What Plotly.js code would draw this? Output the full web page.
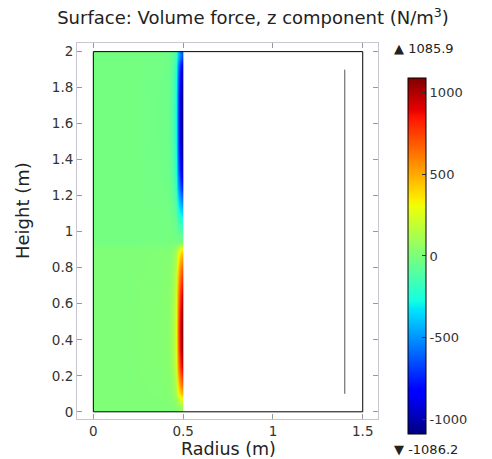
<!DOCTYPE html>
<html>
<head>
<meta charset="utf-8">
<script src="https://cdn.plot.ly/plotly-3.0.1.min.js"></script>
<style>html,body{margin:0;padding:0;background:#fff;}#chart{width:492px;height:459px;}</style>
</head>
<body>
<div id="chart"></div>
<script>
// Radial bin edges (m) of the coloured solid region
var radiusEdges = [0, 0.40, 0.44, 0.46, 0.47, 0.48, 0.49, 0.50];
// Height bin edges (m)
var heightEdges = [0, 0.05, 0.1, 0.2, 0.3, 0.4, 0.5, 0.6, 0.7, 0.8, 0.88, 0.92, 0.96, 1.0,
                   1.1, 1.2, 1.3, 1.4, 1.5, 1.6, 1.7, 1.8, 1.9, 1.95, 2.0];
// Volume force, z component (N/m^3), one row per height bin (bottom to top)
var forceZ = [
  [10, 12, 22, 40, 60, 78, 80],
  [10, 19, 55, 124, 200, 265, 300],
  [10, 30, 107, 255, 428, 568, 650],
  [10, 38, 148, 355, 600, 800, 920],
  [10, 42, 165, 400, 685, 915, 1050],
  [10, 43, 170, 412, 705, 940, 1080],
  [10, 41, 160, 390, 665, 890, 1020],
  [10, 38, 148, 355, 600, 800, 920],
  [10, 33, 122, 295, 495, 662, 760],
  [10, 27, 92, 220, 366, 490, 560],
  [10, 20, 60, 140, 230, 306, 350],
  [-15, -15, -17, -19, -20, -20, -20],
  [-15, -16, -22, -30, -38, -45, -50],
  [-15, -20, -43, -88, -135, -176, -200],
  [-15, -29, -85, -190, -318, -420, -480],
  [-15, -38, -127, -298, -500, -663, -760],
  [-15, -43, -155, -365, -617, -820, -940],
  [-15, -46, -170, -403, -681, -906, -1040],
  [-15, -47, -175, -418, -707, -940, -1080],
  [-15, -48, -176, -420, -711, -946, -1086],
  [-15, -47, -172, -410, -694, -923, -1060],
  [-15, -44, -160, -380, -642, -854, -980],
  [-15, -40, -140, -330, -558, -740, -850],
  [-15, -34, -110, -255, -428, -566, -650]
];
var forceMin = -1086.2;
var forceMax = 1085.9;
// Geometry outline
var outlineR = [0, 1.5, 1.5, 0, 0];
var outlineZ = [0, 0, 2, 2, 0];
var innerLineR = [1.4, 1.4];
var innerLineZ = [0.1, 1.9];
// Tick labels
var xTicks = [0, 0.5, 1, 1.5];
var xTickText = ['0', '0.5', '1', '1.5'];
var yTicks = [0, 0.2, 0.4, 0.6, 0.8, 1, 1.2, 1.4, 1.6, 1.8, 2];
var yTickText = ['0', '0.2', '0.4', '0.6', '0.8', '1', '1.2', '1.4', '1.6', '1.8', '2'];
var cbTicks = [-1000, -500, 0, 500, 1000];
var cbTickText = ['-1000', '-500', '0', '500', '1000'];

var FONT = 'DejaVu Sans, Verdana, sans-serif';
var W = 492, H = 459;
var L = 77, R = 378, T = 43, B = 419;
function px(x) { return (x - L) / (R - L); }
function py(y) { return (B - y) / (B - T); }

var jet = [
  [0, 'rgb(0,0,128)'],
  [0.11, 'rgb(0,0,255)'],
  [0.125, 'rgb(0,0,255)'],
  [0.34, 'rgb(0,219,255)'],
  [0.35, 'rgb(0,229,250)'],
  [0.375, 'rgb(20,255,226)'],
  [0.5, 'rgb(123,255,123)'],
  [0.64, 'rgb(239,255,8)'],
  [0.66, 'rgb(255,236,0)'],
  [0.89, 'rgb(255,19,0)'],
  [0.91, 'rgb(232,0,0)'],
  [1, 'rgb(128,0,0)']
];

var traces = [
  {
    type: 'heatmap',
    x: radiusEdges,
    y: heightEdges,
    z: forceZ,
    zsmooth: 'best',
    zmin: forceMin,
    zmax: forceMax,
    colorscale: jet,
    hoverinfo: 'skip',
    colorbar: {
      xref: 'paper', yref: 'paper',
      x: px(408), xanchor: 'left', xpad: 0,
      y: py(256), yanchor: 'middle', ypad: 0,
      len: 356, lenmode: 'pixels',
      thickness: 18, thicknessmode: 'pixels',
      outlinewidth: 1, outlinecolor: '#000',
      borderwidth: 0,
      tickmode: 'array', tickvals: cbTicks, ticktext: cbTickText,
      ticks: 'inside', ticklen: 4, tickcolor: '#333',
      tickfont: {family: FONT, size: 13, color: '#333'}
    }
  },
  {
    type: 'scatter', mode: 'lines',
    x: outlineR, y: outlineZ,
    line: {color: '#000', width: 1},
    hoverinfo: 'skip', showlegend: false
  },
  {
    type: 'scatter', mode: 'lines',
    x: innerLineR, y: innerLineZ,
    line: {color: '#555', width: 1},
    hoverinfo: 'skip', showlegend: false
  }
];

var axisCommon = {
  showgrid: false, zeroline: false,
  showline: true, linecolor: '#c8c4d0', linewidth: 1, mirror: 'ticks',
  ticks: 'inside', ticklen: 5, tickcolor: '#999',
  tickfont: {family: FONT, size: 13.5, color: '#333'},
  tickmode: 'array'
};

var layout = {
  width: W, height: H,
  margin: {l: L, r: W - R, t: T, b: H - B, pad: 0},
  paper_bgcolor: '#fff', plot_bgcolor: '#fff',
  showlegend: false,
  title: {
    text: 'Surface: Volume force, z component (N/m<sup>3</sup>)',
    font: {family: FONT, size: 18, color: '#222'},
    x: 253 / W, xanchor: 'center', xref: 'container',
    y: 1 - 18 / H, yanchor: 'middle', yref: 'container'
  },
  xaxis: Object.assign({}, axisCommon, {
    range: [-0.091, 1.585], tickvals: xTicks, ticktext: xTickText
  }),
  yaxis: Object.assign({}, axisCommon, {
    range: [-0.04, 2.048], tickvals: yTicks, ticktext: yTickText
  }),
  annotations: [
    {text: 'Radius (m)', xref: 'paper', yref: 'paper', x: px(228.5), y: py(448.5),
     xanchor: 'center', yanchor: 'middle', showarrow: false,
     font: {family: FONT, size: 17.5, color: '#222'}},
    {text: 'Height (m)', xref: 'paper', yref: 'paper', x: px(22), y: py(211),
     xanchor: 'center', yanchor: 'middle', showarrow: false, textangle: -90,
     font: {family: FONT, size: 18, color: '#222'}},
    {text: '\u25B2 ' + forceMax.toFixed(1), xref: 'paper', yref: 'paper', x: px(392), y: py(48),
     xanchor: 'left', yanchor: 'middle', showarrow: false,
     font: {family: FONT, size: 13, color: '#222'}},
    {text: '\u25BC ' + forceMin.toFixed(1), xref: 'paper', yref: 'paper', x: px(392), y: py(449),
     xanchor: 'left', yanchor: 'middle', showarrow: false,
     font: {family: FONT, size: 13, color: '#222'}}
  ]
};

Plotly.newPlot('chart', traces, layout, {displayModeBar: false, staticPlot: true});
</script>
</body>
</html>
